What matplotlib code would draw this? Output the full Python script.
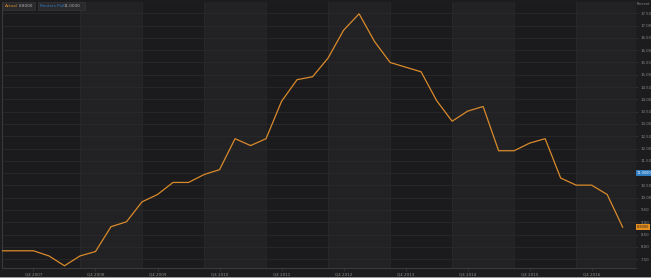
import matplotlib
matplotlib.use("Agg")
import matplotlib.pyplot as plt
from matplotlib.patches import Rectangle
import matplotlib.transforms as mtrans

# ---- data ----
quarters = ["Q2 2007", "Q3 2007", "Q4 2007",
            "Q1 2008", "Q2 2008", "Q3 2008", "Q4 2008",
            "Q1 2009", "Q2 2009", "Q3 2009", "Q4 2009",
            "Q1 2010", "Q2 2010", "Q3 2010", "Q4 2010",
            "Q1 2011", "Q2 2011", "Q3 2011", "Q4 2011",
            "Q1 2012", "Q2 2012", "Q3 2012", "Q4 2012",
            "Q1 2013", "Q2 2013", "Q3 2013", "Q4 2013",
            "Q1 2014", "Q2 2014", "Q3 2014", "Q4 2014",
            "Q1 2015", "Q2 2015", "Q3 2015", "Q4 2015",
            "Q1 2016", "Q2 2016", "Q3 2016", "Q4 2016",
            "Q1 2017", "Q2 2017"]
actual = [7.84, 7.84, 7.84,
          7.63, 7.23, 7.63, 7.81,
          8.82, 9.02, 9.83, 10.13,
          10.62, 10.62, 10.94, 11.14,
          12.40, 12.12, 12.40, 13.92,
          14.80, 14.92, 15.68, 16.81,
          17.48, 16.35, 15.50, 15.31,
          15.12, 13.95, 13.11, 13.52,
          13.71, 11.91, 11.91, 12.22,
          12.40, 10.80, 10.51, 10.51,
          10.13, 8.80]
reuters_poll = 11.0
x_tick_labels = ["Q4 2007", "Q4 2008", "Q4 2009", "Q4 2010", "Q4 2011",
                 "Q4 2012", "Q4 2013", "Q4 2014", "Q4 2015", "Q4 2016"]
y_ticks = [7.5 + 0.5 * k for k in range(21)]

# ---- style ----
BG = "#1c1c1e"
BAND_DARK = "#1b1b1d"
BAND_LIGHT = "#222224"
GRID = "#2a2a2c"
TXT = "#8c8c8c"
ORANGE = "#d98a2b"
BLUE = "#2f7bbf"

W, H = 651, 278
fig = plt.figure(figsize=(W / 100, H / 100), dpi=100, facecolor=BG)
left_px, right_px, top_px, bot_px = 2, 636, 2, 267.5
ax = fig.add_axes([left_px / W, (H - bot_px) / H, (right_px - left_px) / W,
                   (bot_px - top_px) / H])
ax.set_facecolor(BAND_DARK)

xs = list(range(len(quarters)))
ax.set_xlim(-0.03, 40.86)
ax.set_ylim(7.16, 17.96)

# alternating year bands (boundaries at Q3 of each year)
for start in range(5, 41, 8):
    ax.axvspan(start, start + 4, color=BAND_LIGHT, lw=0, zorder=0)
for b in range(5, 41, 4):
    ax.axvline(b, color="#28282a", lw=0.6, zorder=0.5)

# horizontal grid
for yv in y_ticks:
    ax.axhline(yv, color=GRID, lw=0.6, zorder=0.6)

ax.plot(xs, actual, color=ORANGE, lw=0.9, zorder=3, solid_joinstyle="miter")

# axes decoration
for s in ["top", "right"]:
    ax.spines[s].set_visible(False)
for s in ["left", "bottom"]:
    ax.spines[s].set_color("#3a3a3c")
    ax.spines[s].set_linewidth(0.8)

tick_pos = [quarters.index(l) for l in x_tick_labels]
ax.set_xticks(tick_pos)
ax.set_xticklabels(x_tick_labels)
ax.tick_params(axis="x", colors="#3a3a3c", labelcolor=TXT, labelsize=3,
               length=2, width=0.5, pad=1.5)

ax.yaxis.tick_right()
ax.set_yticks(y_ticks)
# the 11.00 label is covered by the poll tag in the reference
ax.set_yticklabels(["" if abs(v - reuters_poll) < 1e-9 else "%.2f" % v
                    for v in y_ticks])
ax.tick_params(axis="y", colors="#3a3a3c", labelcolor=TXT, labelsize=2.8,
               length=1.5, width=0.5, pad=2)

# right-axis value tags
trans = mtrans.blended_transform_factory(ax.transAxes, ax.transData)
ax.text(1.0 + 1.0 / 634, reuters_poll, "%.4f" % reuters_poll, transform=trans,
        fontsize=2.5, color="white", va="center", ha="left", zorder=5,
        bbox=dict(boxstyle="square,pad=0.3", fc=BLUE, ec="none"),
        clip_on=False)
ax.text(1.0 + 1.0 / 634, actual[-1], "%.4f" % actual[-1], transform=trans,
        fontsize=2.5, color="#1c1c1e", va="center", ha="left", zorder=5,
        bbox=dict(boxstyle="square,pad=0.3", fc="#e8901e", ec="none"),
        clip_on=False)

# "Percent" unit label
fig.text(637 / W, 1 - 4 / H, "Percent", fontsize=2.5, color=TXT,
         ha="left", va="center")

# legend boxes
def legend_box(x0, x1, name, col):
    fig.patches.append(Rectangle((x0 / W, 1 - 10 / H), (x1 - x0) / W, 8 / H,
                                 transform=fig.transFigure, fc="#2a2a2c",
                                 ec="#3a3a3c", lw=0.4, zorder=10))
    fig.text((x0 + 2) / W, 1 - 6 / H, name, fontsize=3, color=col,
             ha="left", va="center", zorder=11)

legend_box(3, 35, "Actual", ORANGE)
fig.text(19 / W, 1 - 6 / H, "%.4f" % actual[-1], fontsize=3, color="#b0b0b0",
         ha="left", va="center", zorder=11)
legend_box(38, 85, "Reuters Poll", BLUE)
fig.text(64 / W, 1 - 6 / H, "%.4f" % reuters_poll, fontsize=3, color="#b0b0b0",
         ha="left", va="center", zorder=11)

# light bottom border of the image
fig.patches.append(Rectangle((0, 0), 1, 1.5 / H, transform=fig.transFigure,
                             fc="#9a9a9a", ec="none", zorder=12))

fig.savefig("out.png", dpi=100, facecolor=BG)
